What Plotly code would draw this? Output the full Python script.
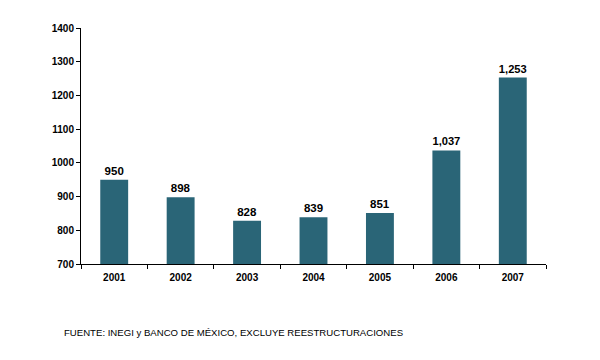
import plotly.graph_objects as go

years = ["2001", "2002", "2003", "2004", "2005", "2006", "2007"]
values = [950, 898, 828, 839, 851, 1037, 1253]
labels = ["950", "898", "828", "839", "851", "1,037", "1,253"]
yticks = [700, 800, 900, 1000, 1100, 1200, 1300, 1400]
source_note = "FUENTE: INEGI y BANCO DE MÉXICO, EXCLUYE REESTRUCTURACIONES"

fig = go.Figure(go.Bar(
    x=years, y=values, text=labels, textposition="outside",
    marker=dict(color="#2a6577", line=dict(width=0)),
    textfont=dict(family="Liberation Sans", size=11.5, color="#000000", weight="bold"),
    texttemplate="%{text}", cliponaxis=False,
))

fig.update_layout(
    width=600, height=360,
    margin=dict(l=73, r=62, t=20, b=104),
    paper_bgcolor="white", plot_bgcolor="white",
    bargap=0.58, showlegend=False,
    font=dict(family="Liberation Sans", color="#000000"),
)
fig.update_xaxes(
    type="category", showline=True, linecolor="#000000", linewidth=1,
    ticks="outside", tickson="boundaries", ticklen=4, tickcolor="#000000",
    tickfont=dict(size=10, family="Liberation Sans", weight="bold"), showgrid=False,
    ticklabelstandoff=4,
)
fig.update_yaxes(
    range=[700, 1400], tickvals=yticks, showline=True, linecolor="#000000",
    linewidth=1, ticks="outside", ticklen=4, tickcolor="#000000",
    tickfont=dict(size=10, family="Liberation Sans", weight="bold"), showgrid=False,
    zeroline=False,
)
fig.add_annotation(
    text=source_note, xref="paper", yref="paper", x=-0.041, y=-0.292,
    xanchor="left", yanchor="middle", showarrow=False,
    font=dict(size=9.6, family="Liberation Sans", color="#000000"),
)
fig.write_html("out.html")
